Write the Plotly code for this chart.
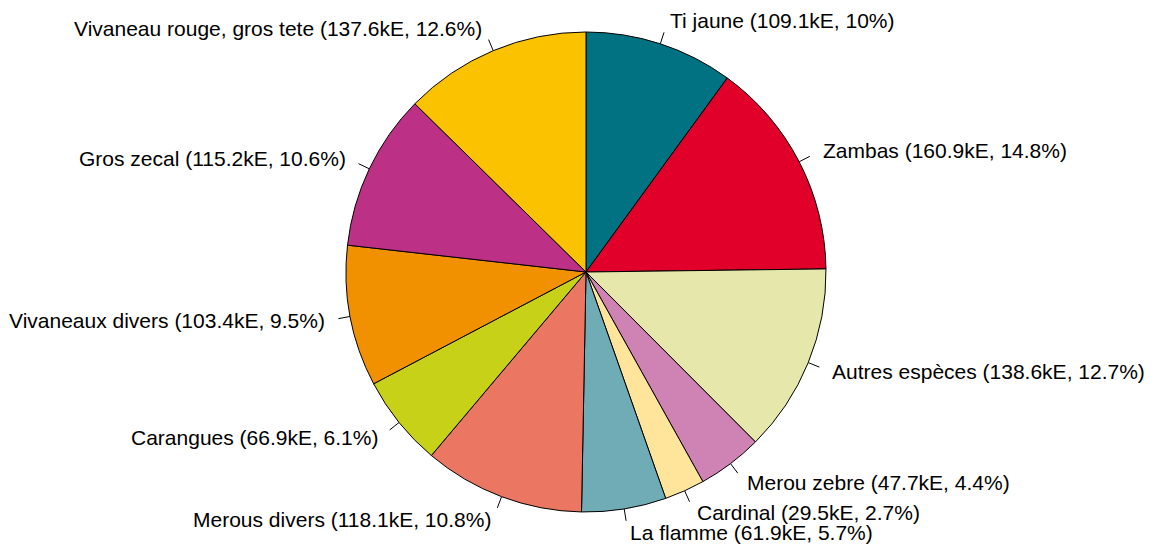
import math
import plotly.graph_objects as go

species = ["Ti jaune", "Zambas", "Autres espèces", "Merou zebre", "Cardinal",
           "La flamme", "Merous divers", "Carangues", "Vivaneaux divers",
           "Gros zecal", "Vivaneau rouge, gros tete"]
values_kE = [109.1, 160.9, 138.6, 47.7, 29.5, 61.9, 118.1, 66.9, 103.4, 115.2, 137.6]
pct_labels = ["10%", "14.8%", "12.7%", "4.4%", "2.7%", "5.7%", "10.8%", "6.1%",
              "9.5%", "10.6%", "12.6%"]
colors = ["#007282", "#E1002A", "#E6E7AA", "#CF83B4", "#FEE59B", "#6FACB5",
          "#EB7762", "#C7D117", "#F29100", "#BC3186", "#FBC200"]

W, H = 1155, 545
CX, CY, R = 586, 272, 240

fig = go.Figure()
fig.add_trace(go.Pie(
    values=values_kE, labels=species, sort=False, direction="clockwise",
    rotation=0, marker=dict(colors=colors, line=dict(color="black", width=1)),
    textinfo="none", hoverinfo="label+value", showlegend=False,
    domain=dict(x=[(CX - R) / W, (CX + R) / W], y=[1 - (CY + R) / H, 1 - (CY - R) / H]),
))

total = sum(values_kE)
cum = 0.0
lx, ly = [], []
annotations = []
for name, v, p in zip(species, values_kE, pct_labels):
    mid = cum + v / 2
    cum += v
    ang = math.pi / 2 - 2 * math.pi * mid / total
    c, s = math.cos(ang), math.sin(ang)
    lx += [CX + R * c, CX + 1.05 * R * c, None]
    ly += [CY - R * s, CY - 1.05 * R * s, None]
    annotations.append(dict(
        x=CX + 1.1 * R * c, y=CY - 1.1 * R * s, xref="x", yref="y",
        text=f"{name} ({v}kE, {p})", showarrow=False,
        xanchor="left" if c > 0 else "right", yanchor="middle",
        font=dict(size=21, color="black", family="Liberation Sans, Arial, sans-serif"),
    ))

fig.add_trace(go.Scatter(x=lx, y=ly, mode="lines", line=dict(color="black", width=1),
                         hoverinfo="skip", showlegend=False))

fig.update_layout(
    width=W, height=H, margin=dict(l=0, r=0, t=0, b=0),
    paper_bgcolor="white", plot_bgcolor="white",
    xaxis=dict(range=[0, W], visible=False, fixedrange=True),
    yaxis=dict(range=[H, 0], visible=False, fixedrange=True),
    annotations=annotations,
)
fig.write_html("out.html", config={"displayModeBar": False},
               post_script="document.body.style.margin='0';")
